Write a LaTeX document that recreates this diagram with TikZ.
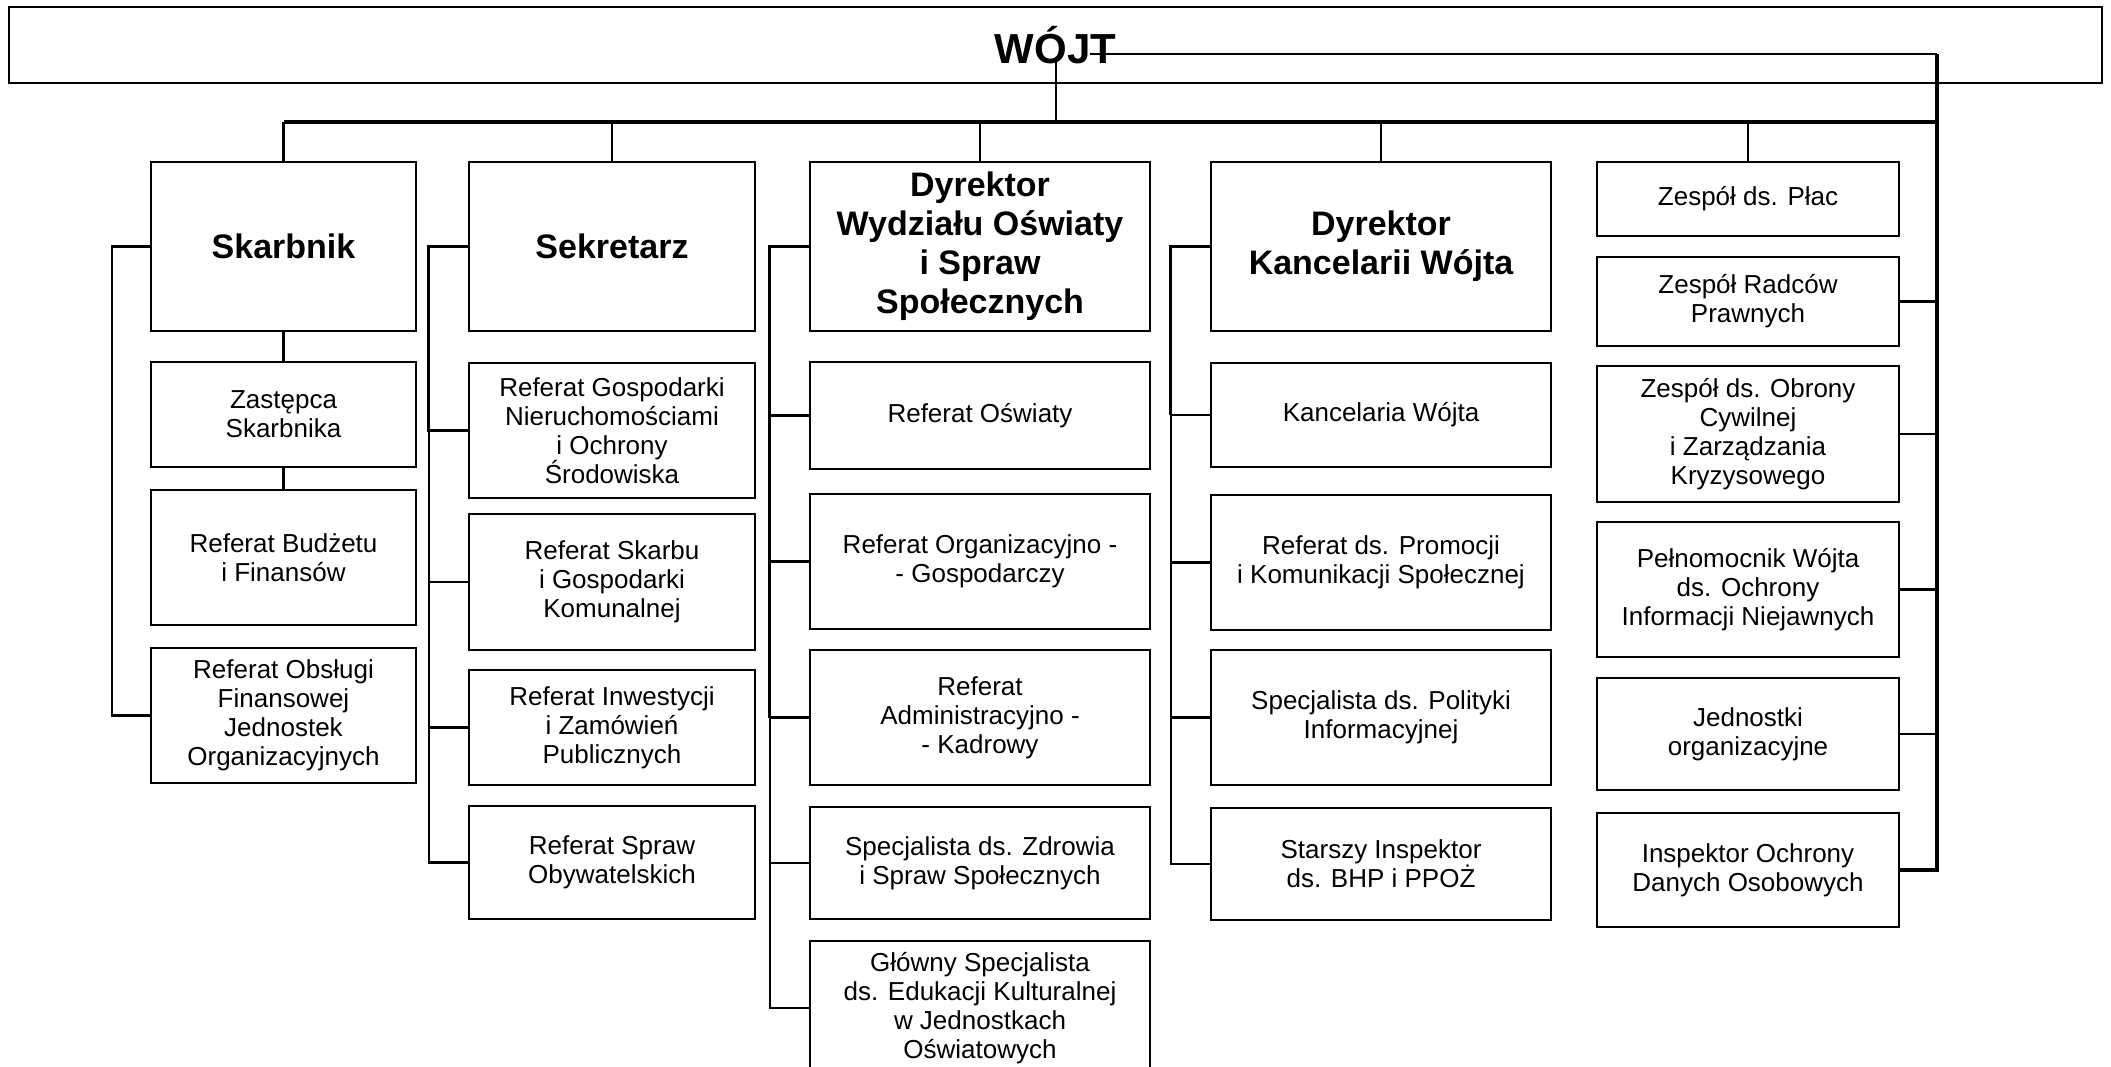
\documentclass[tikz,border=0pt]{standalone}
\usepackage{fontspec}
\setmainfont{Liberation Sans}
\begin{document}
\begin{tikzpicture}[x=1pt,y=-1pt,
  box/.style={draw, line width=2.6pt, inner sep=2pt, align=center, font=\fontsize{26}{29}\selectfont},
  head/.style={box, font=\fontsize{34}{39}\selectfont\bfseries},
  topbox/.style={box, font=\fontsize{42}{46}\selectfont\bfseries},
  colA/.style={minimum width=265pt},
  colB/.style={minimum width=286pt},
  colC/.style={minimum width=340pt},
  colD/.style={minimum width=340pt},
  colE/.style={minimum width=302pt},
  conn/.style={line width=2.2pt},
  thickconn/.style={line width=3.2pt},
  busthick/.style={line width=4.6pt}]
\useasboundingbox (0,0) rectangle (2111,1066);
\clip (0,0) rectangle (2111,1066);

% top
\node[topbox, minimum width=2093pt, minimum height=76pt] (wojt) at (1055.5,45) {WÓJT};

% column 1
\node[head, colA, minimum height=169pt] (skarbnik) at (283.5,246.5) {Skarbnik};
\node[box, colA, minimum height=105pt] (zastepca) at (283.5,414.5) {Zastępca\\Skarbnika};
\node[box, colA, minimum height=135pt] (budzet) at (283.5,557.5) {Referat Budżetu\\i Finansów};
\node[box, colA, minimum height=135pt] (obslugi) at (283.5,715.5) {Referat Obsługi\\Finansowej\\Jednostek\\Organizacyjnych};

% column 2
\node[head, colB, minimum height=169pt] (sekretarz) at (612,246.5) {Sekretarz};
\node[box, colB, minimum height=135pt] (gosp) at (612,430.5) {Referat Gospodarki\\Nieruchomościami\\i Ochrony\\Środowiska};
\node[box, colB, minimum height=136pt] (skarbu) at (612,582) {Referat Skarbu\\i Gospodarki\\Komunalnej};
\node[box, colB, minimum height=115pt] (inwest) at (612,727.5) {Referat Inwestycji\\i Zamówień\\Publicznych};
\node[box, colB, minimum height=113pt] (obyw) at (612,862.5) {Referat Spraw\\Obywatelskich};

% column 3
\node[head, colC, minimum height=169pt] (dyrwo) at (980,246.5) {Dyrektor\\Wydziału Oświaty\\i Spraw\\Społecznych};
\node[box, colC, minimum height=107pt] (oswiaty) at (980,415.5) {Referat Oświaty};
\node[box, colC, minimum height=135pt] (orggosp) at (980,561.5) {Referat Organizacyjno -\\- Gospodarczy};
\node[box, colC, minimum height=135pt] (admkadr) at (980,717.5) {Referat\\Administracyjno -\\- Kadrowy};
\node[box, colC, minimum height=112pt] (zdrowia) at (980,863) {Specjalista ds. Zdrowia\\i Spraw Społecznych};
\node[box, colC, minimum height=134pt] (glowny) at (980,1008) {Główny Specjalista\\ds. Edukacji Kulturalnej\\w Jednostkach\\Oświatowych};

% column 4
\node[head, colD, minimum height=169pt] (dyrkw) at (1381,246.5) {Dyrektor\\Kancelarii Wójta};
\node[box, colD, minimum height=104pt] (kancelaria) at (1381,415) {Kancelaria Wójta};
\node[box, colD, minimum height=135pt] (promocji) at (1381,562.5) {Referat ds. Promocji\\i Komunikacji Społecznej};
\node[box, colD, minimum height=135pt] (polityki) at (1381,717.5) {Specjalista ds. Polityki\\Informacyjnej};
\node[box, colD, minimum height=112pt] (bhp) at (1381,864) {Starszy Inspektor\\ds. BHP i PPOŻ};

% column 5
\node[box, colE, minimum height=74pt] (place) at (1748,199) {Zespół ds. Płac};
\node[box, colE, minimum height=89pt] (radcow) at (1748,301.5) {Zespół Radców\\Prawnych};
\node[box, colE, minimum height=136pt] (obrony) at (1748,434) {Zespół ds. Obrony\\Cywilnej\\i Zarządzania\\Kryzysowego};
\node[box, colE, minimum height=135pt] (pelnom) at (1748,589.5) {Pełnomocnik Wójta\\ds. Ochrony\\Informacji Niejawnych};
\node[box, colE, minimum height=112pt] (jednostki) at (1748,734) {Jednostki\\organizacyjne};
\node[box, colE, minimum height=114pt] (iodo) at (1748,870) {Inspektor Ochrony\\Danych Osobowych};

% connector points
\coordinate (wjdown) at (1056,57);
\coordinate (wjright) at (1090,54);
\coordinate (rtop) at (1937,54);
\coordinate (busL) at (284,122);
\coordinate (busM) at (1056,122);
\coordinate (busR) at (1937,122);

% links from WÓJT
\draw[conn] (wjdown) -- (busM);
\draw[conn] (wjright) -- (rtop);
\draw[thickconn] (busL) -- (busM);
\draw[busthick] (busM) -- (busR);
\draw[thickconn] (rtop) -- (rtop |- iodo.east) -- (iodo.east);

% drops
\foreach \n in {skarbnik,sekretarz,dyrwo,dyrkw,place}
  \draw[conn] (\n.north |- busL) -- (\n.north);

% column 1
\draw[conn] (skarbnik.south) -- (zastepca.north);
\draw[conn] (zastepca.south) -- (budzet.north);
\draw[conn] (skarbnik.west) -- ++(-38,0) coordinate (b1) -- (b1 |- obslugi.west) -- (obslugi.west);

% column 2
\draw[thickconn] (sekretarz.west) -- ++(-39,0) coordinate (b2) -- (b2 |- gosp.west) -- (gosp.west);
\draw[conn] (b2 |- gosp.west) -- (b2 |- obyw.west) -- (obyw.west);
\foreach \n in {skarbu,inwest}
  \draw[conn] (b2 |- \n.west) -- (\n.west);

% column 3
\draw[thickconn] (dyrwo.west) -- ++(-39,0) coordinate (b3) -- (b3 |- admkadr.west);
\draw[conn] (b3 |- admkadr.west) -- (b3 |- glowny.west) -- (glowny.west);
\foreach \n in {oswiaty,orggosp,admkadr,zdrowia}
  \draw[conn] (b3 |- \n.west) -- (\n.west);

% column 4
\draw[thickconn] (dyrkw.west) -- ++(-39,0) coordinate (b4) -- (b4 |- kancelaria.west);
\draw[conn] (b4 |- kancelaria.west) -- (b4 |- bhp.west) -- (bhp.west);
\foreach \n in {kancelaria,promocji,polityki}
  \draw[conn] (b4 |- \n.west) -- (\n.west);

% column 5
\foreach \n in {radcow,obrony,pelnom,jednostki}
  \draw[conn] (\n.east) -- (rtop |- \n.east);
\end{tikzpicture}
\end{document}
